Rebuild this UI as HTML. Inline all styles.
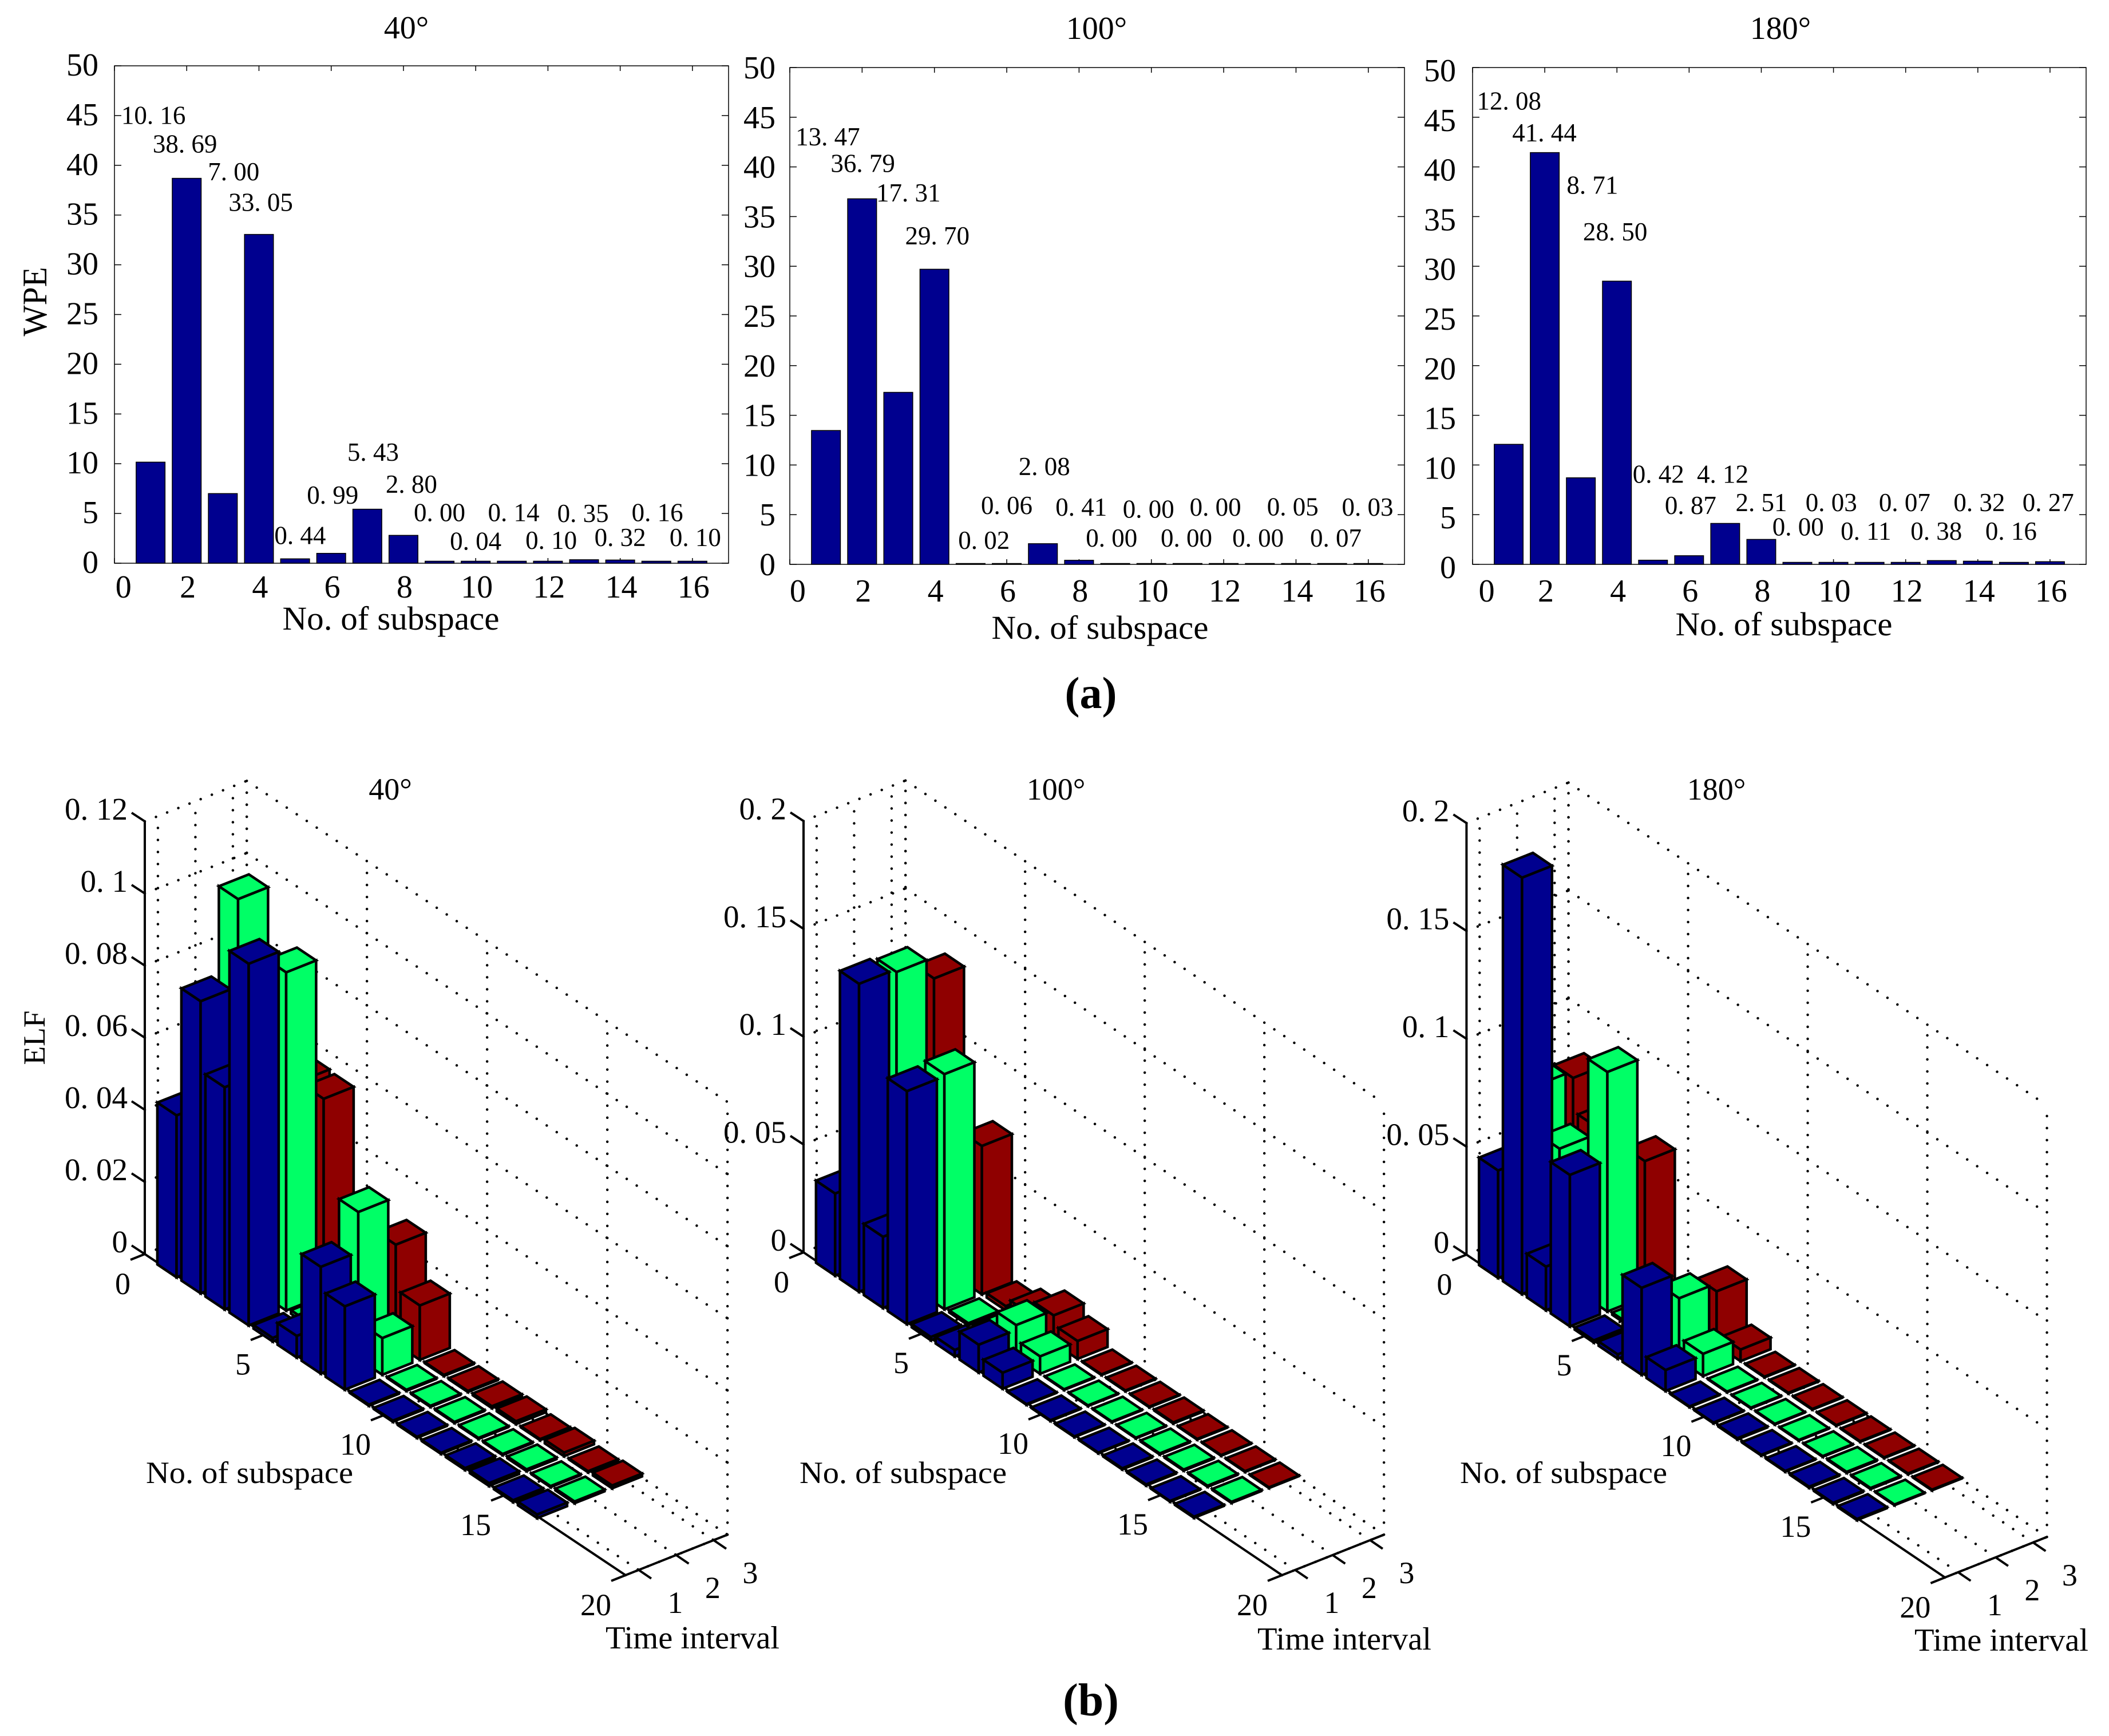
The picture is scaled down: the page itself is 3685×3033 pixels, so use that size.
<!DOCTYPE html>
<html lang="en">
<head>
<meta charset="utf-8">
<title>WPE and ELF by subspace</title>
<style>
html,body{margin:0;padding:0;background:#fff;}
svg{display:block;font-family:"Liberation Serif",serif;fill:#000;}
text{fill:#000;}
</style>
</head>
<body>
<svg id="figure" xmlns="http://www.w3.org/2000/svg" width="3685" height="3033" viewBox="0 0 3685 3033">
  <rect width="3685" height="3033" fill="#fff"/>

  <g id="wpe40"></g>
  <g id="wpe100"></g>
  <g id="wpe180"></g>
  <g id="elf40"></g>
  <g id="elf100"></g>
  <g id="elf180"></g>

  <text x="710" y="67" font-size="56" text-anchor="middle">40°</text>
  <text x="1916" y="68" font-size="56" text-anchor="middle">100°</text>
  <text x="3111" y="68" font-size="56" text-anchor="middle">180°</text>

  <text transform="translate(81,527) rotate(-90)" font-size="60" text-anchor="middle" textLength="121" lengthAdjust="spacingAndGlyphs">WPE</text>
  <text x="683" y="1100" font-size="58" text-anchor="middle" textLength="379" lengthAdjust="spacingAndGlyphs">No. of subspace</text>
  <text x="1922" y="1116" font-size="58" text-anchor="middle" textLength="379" lengthAdjust="spacingAndGlyphs">No. of subspace</text>
  <text x="3117" y="1110" font-size="58" text-anchor="middle" textLength="379" lengthAdjust="spacingAndGlyphs">No. of subspace</text>

  <text x="1906" y="1237" font-size="78" font-weight="bold" text-anchor="middle">(a)</text>
  <text x="1906" y="2997" font-size="80" font-weight="bold" text-anchor="middle">(b)</text>

  <text x="682" y="1397" font-size="54" text-anchor="middle">40°</text>
  <text x="1845" y="1397" font-size="54" text-anchor="middle">100°</text>
  <text x="2999" y="1397" font-size="54" text-anchor="middle">180°</text>

  <text transform="translate(78,1813) rotate(-90)" font-size="54" text-anchor="middle" textLength="95" lengthAdjust="spacingAndGlyphs">ELF</text>

  <text x="436" y="2591" font-size="54" text-anchor="middle" textLength="362" lengthAdjust="spacingAndGlyphs">No. of subspace</text>
  <text x="1578" y="2591" font-size="54" text-anchor="middle" textLength="362" lengthAdjust="spacingAndGlyphs">No. of subspace</text>
  <text x="2732" y="2591" font-size="54" text-anchor="middle" textLength="362" lengthAdjust="spacingAndGlyphs">No. of subspace</text>

  <text x="1058" y="2880" font-size="56" textLength="304" lengthAdjust="spacingAndGlyphs">Time interval</text>
  <text x="2197" y="2882" font-size="56" textLength="304" lengthAdjust="spacingAndGlyphs">Time interval</text>
  <text x="3345" y="2884" font-size="56" textLength="304" lengthAdjust="spacingAndGlyphs">Time interval</text>
</svg>

<script>
// ---------- Chart data ----------
const subspaces = [1,2,3,4,5,6,7,8,9,10,11,12,13,14,15,16];

// WPE per subspace
const wpe40  = [10.16,38.69,7.00,33.05,0.44,0.99,5.43,2.80,0.00,0.04,0.14,0.10,0.35,0.32,0.16,0.10];
const wpe100 = [13.47,36.79,17.31,29.70,0.02,0.06,2.08,0.41,0.00,0.00,0.00,0.00,0.00,0.05,0.07,0.03];
const wpe180 = [12.08,41.44,8.71,28.50,0.42,0.87,4.12,2.51,0.00,0.03,0.11,0.07,0.38,0.32,0.16,0.27];

const wpeYTicks = [0,5,10,15,20,25,30,35,40,45,50];
const wpeXTicks = [0,2,4,6,8,10,12,14,16];

// Value-label lift above each bar and sideways shift, in data units
const lift40  = [34.0,2.6,31.5,2.35,1.5,5.0,4.87,4.29,4.23,1.32,4.09,1.35,3.79,1.4,4.07,1.62];
const shift40 = [.08,-.05,.30,.05,.14,.04,.16,.22,0,0,.05,.09,-.03,0,.03,.08];
const lift100  = [28.7,2.7,19.2,2.5,1.53,5.0,6.9,4.48,1.79,4.7,1.79,4.89,1.79,4.88,1.72,4.86];
const shift100 = [.05,.02,.28,.08,.37,0,.04,.06,-.1,-.08,-.03,-.23,-.05,-.09,.1,-.02];
const lift180  = [33.7,1.13,28.6,4.1,7.8,4.21,4.1,2.85,2.91,5.33,2.38,5.29,2.11,5.04,2.33,5.09];
const shift180 = [.01,-.01,.32,-.05,.15,.04,-.07,0,.02,-.06,-.1,-.03,-.15,.04,-.08,-.05];

// ELF per subspace for time intervals 1, 2, 3
const elf40T1 = [.0449,.081,.0616,.1003,.001,.006,.0296,.0231,.0003,.0003,.0003,.0003,.0005,.0008,.0005,.0010];
const elf40T2 = [.04,.1052,.05,.0938,.001,.002,.0407,.0102,.0003,.0003,.0003,.0003,.0003,.0005,.0003,.0005];
const elf40T3 = [.04,.05,.055,.0546,.002,.002,.0275,.0151,.0003,.0003,.0005,.0008,.0003,.0010,.0003,.0008];

const elf100T1 = [.0381,.1428,.033,.108,.0015,.003,.0129,.0074,.0003,.0003,.0003,.0003,.0005,.0005,.0003,.0005];
const elf100T2 = [.03,.1414,.03,.109,.001,.002,.0151,.0081,.0003,.0003,.0003,.0003,.0005,.0005,.0005,.0005];
const elf100T3 = [.03,.1315,.03,.0688,.002,.006,.0127,.0083,.0003,.0003,.0003,.0005,.0003,.0003,.0003,.0003];

const elf180T1 = [.0498,.193,.0202,.0702,.001,.002,.0403,.0097,.0003,.0003,.0005,.0003,.0003,.0005,.0005,.0005];
const elf180T2 = [.0822,.0605,.03,.111,.001,.003,.0286,.0103,.0003,.0003,.0003,.0003,.0003,.0005,.0005,.0003];
const elf180T3 = [.0789,.0635,.03,.0628,.001,.003,.0249,.0054,.0003,.0003,.0003,.0003,.0003,.0003,.0003,.0003];

const elfTicks40 = [0,.02,.04,.06,.08,.1,.12];
const elfTicksWide = [0,.05,.1,.15,.2];
const subspaceTicks = [0,5,10,15,20];
const timeTicks = [1,2,3];

// ---------- Drawing ----------
const NS = 'http://www.w3.org/2000/svg';
function make(tag, attrs, parent, txt) {
  const el = document.createElementNS(NS, tag);
  for (const k in attrs) el.setAttribute(k, attrs[k]);
  if (txt !== undefined) el.textContent = txt;
  parent.appendChild(el);
  return el;
}
const dotted = (v) => String(v).replace('.', '. ');

function drawWpe(cfg) {
  const g = document.getElementById(cfg.id);
  const x = (v) => cfg.left + v * (cfg.right - cfg.left) / 17;
  const y = (v) => cfg.bottom - v * (cfg.bottom - cfg.top) / 50;

  const frame = make('rect', {x: cfg.left, y: cfg.top, width: cfg.right - cfg.left, height: cfg.bottom - cfg.top, fill: 'none', stroke: '#000', 'stroke-width': 1.5}, g);
  
  

  wpeYTicks.forEach((t) => {
    const a = make('line', {x1: cfg.left, x2: cfg.left + 12, y1: y(t), y2: y(t), stroke: '#000', 'stroke-width': 1.5}, g);
    
    
    const b = make('line', {x1: cfg.right - 12, x2: cfg.right, y1: y(t), y2: y(t), stroke: '#000', 'stroke-width': 1.5}, g);
    
    
    const lab = make('text', {x: cfg.yLabelRight, y: y(t) + cfg.yLabelDy, 'font-size': 56, 'text-anchor': 'end'}, g, String(t));
    
    
  });

  wpeXTicks.forEach((t) => {
    const a = make('line', {x1: x(t), x2: x(t), y1: cfg.top, y2: cfg.top + 9, stroke: '#000', 'stroke-width': 1.5}, g);
    
    
    const b = make('line', {x1: x(t), x2: x(t), y1: cfg.bottom - 9, y2: cfg.bottom, stroke: '#000', 'stroke-width': 1.5}, g);
    
    
    const lab = make('text', {x: x(t === 0 ? cfg.zeroTickAt : t + .03), y: cfg.xLabelY, 'font-size': 56, 'text-anchor': 'middle'}, g, String(t));
    
    
  });

  subspaces.forEach((n, i) => {
    const v = cfg.values[i];
    const h = Math.max(y(0) - y(v), cfg.minBar);
    const bar = make('rect', {x: x(n - .4), y: y(0) - h, width: x(n + .4) - x(n - .4), height: h, fill: '#00008f', stroke: '#000', 'stroke-width': 1.5}, g);
    
    
    const lab = make('text', {x: x(n + cfg.shift[i]), y: y(v + cfg.lift[i]), 'font-size': 45, 'text-anchor': 'middle'}, g, dotted(v.toFixed(2)));
    
    
  });
}

const T0 = .65, T_END = 3.37, TVX = 65.5, TVY = -26;
function drawElf(cfg) {
  const g = document.getElementById(cfg.id);
  const P = (n, t, z) => [cfg.ox + n * cfg.nvx + (t - T0) * TVX, cfg.oy + n * cfg.nvy + (t - T0) * TVY - z * cfg.zs];
  const zTop = cfg.zTicks[cfg.zTicks.length - 1];

  const gridLine = (a, b) => {
    const l = make('line', {x1: a[0], y1: a[1], x2: b[0], y2: b[1], stroke: '#000', 'stroke-width': 4.5, 'stroke-linecap': 'round', 'stroke-dasharray': '0.01 21'}, g);
    
    
  };
  cfg.zTicks.forEach((z) => {
    gridLine(P(0, T0, z), P(0, T_END, z));
    gridLine(P(0, T_END, z), P(20, T_END, z));
  });
  timeTicks.concat([T_END]).forEach((t) => {
    gridLine(P(0, t, 0), P(0, t, zTop));
    gridLine(P(0, t, 0), P(20, t, 0));
  });
  subspaceTicks.forEach((n) => {
    gridLine(P(n, T_END, 0), P(n, T_END, zTop));
    if (n > 0) gridLine(P(n, T0, 0), P(n, T_END, 0));
  });

  const solid = (a, b) => make('line', {x1: a[0], y1: a[1], x2: b[0], y2: b[1], stroke: '#000', 'stroke-width': 4}, g);
  const zAxis = solid(P(0, T0, 0), P(0, T0, zTop));
  
  
  const nAxis = solid(P(0, T0, 0), P(20, T0, 0));
  
  
  const tAxis = solid(P(20, T0, 0), P(20, T_END, 0));
  
  

  cfg.zTicks.forEach((z) => {
    const p = P(0, T0, z);
    const tick = solid(p, [p[0] - 23, p[1] - 15]);
    
    
    const lab = make('text', {x: p[0] - 30, y: p[1] - 15 + 12, 'font-size': 55, 'text-anchor': 'end'}, g, dotted(z));
    
    
  });
  subspaceTicks.forEach((n) => {
    const p = P(n, T0, 0);
    const tick = solid(p, [p[0] - 25, p[1] + 10]);
    
    
    const lab = make('text', {x: p[0] - 25, y: p[1] + 70, 'font-size': 54, 'text-anchor': 'end'}, g, String(n));
    
    
  });
  timeTicks.forEach((t) => {
    const p = P(20, t, 0);
    const tick = solid(p, [p[0] + 22, p[1] + 15]);
    
    
    const lab = make('text', {x: p[0] + 64, y: p[1] + 75, 'font-size': 54, 'text-anchor': 'middle'}, g, String(t));
    
    
  });

  // painter's order: far bars first
  const bars = [];
  cfg.series.forEach((vals, si) => {
    subspaces.forEach((n, i) => bars.push({n: n, t: si + 1, z: vals[i], color: cfg.colors[si]}));
  });
  bars.sort((a, b) => P(a.n, a.t, 0)[1] - P(b.n, b.t, 0)[1]);

  const pts = (arr) => arr.map((p) => p[0].toFixed(1) + ',' + p[1].toFixed(1)).join(' ');
  bars.forEach((b) => {
    const n0 = b.n - .4, n1 = b.n + .4, t0 = b.t - .4, t1 = b.t + .4;
    const bar = make('g', {fill: b.color, stroke: '#000', 'stroke-width': 4.5, 'stroke-linejoin': 'miter'}, g);
    
    
    const left = make('polygon', {points: pts([P(n0, t0, 0), P(n1, t0, 0), P(n1, t0, b.z), P(n0, t0, b.z)])}, bar);
    
    
    const right = make('polygon', {points: pts([P(n1, t0, 0), P(n1, t1, 0), P(n1, t1, b.z), P(n1, t0, b.z)])}, bar);
    
    
    const top = make('polygon', {points: pts([P(n0, t0, b.z), P(n1, t0, b.z), P(n1, t1, b.z), P(n0, t1, b.z)])}, bar);
    
    
  });
}

drawWpe({id: 'wpe40', left: 200, right: 1273, top: 115, bottom: 984, values: wpe40, lift: lift40, shift: shift40, yLabelRight: 172, yLabelDy: 17, xLabelY: 1044, zeroTickAt: .25, minBar: 3.5});
drawWpe({id: 'wpe100', left: 1380, right: 2454, top: 118, bottom: 986, values: wpe100, lift: lift100, shift: shift100, yLabelRight: 1355, yLabelDy: 19, xLabelY: 1051, zeroTickAt: .22, minBar: 1.5});
drawWpe({id: 'wpe180', left: 2573, right: 3645, top: 118, bottom: 986, values: wpe180, lift: lift180, shift: shift180, yLabelRight: 2544, yLabelDy: 24, xLabelY: 1051, zeroTickAt: .39, minBar: 3.5});

const barColors = ['#00008f', '#00ff66', '#8f0000'];
drawElf({id: 'elf40', ox: 253, oy: 2191, nvx: 42, nvy: 28.05, zs: 6300, zTicks: elfTicks40, series: [elf40T1, elf40T2, elf40T3], colors: barColors});
drawElf({id: 'elf100', ox: 1404, oy: 2188, nvx: 41.8, nvy: 28.2, zs: 3768, zTicks: elfTicksWide, series: [elf100T1, elf100T2, elf100T3], colors: barColors});
drawElf({id: 'elf180', ox: 2562.4, oy: 2192, nvx: 41.8, nvy: 28.2, zs: 3770, zTicks: elfTicksWide, series: [elf180T1, elf180T2, elf180T3], colors: barColors});
</script>
</body>
</html>
